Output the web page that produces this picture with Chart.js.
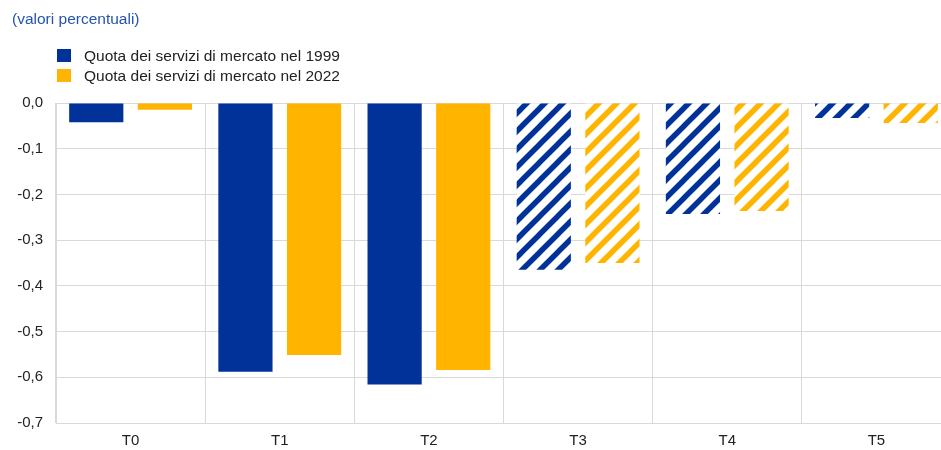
<!DOCTYPE html>
<html>
<head>
<meta charset="utf-8">
<script src="https://cdn.jsdelivr.net/npm/chart.js@4/dist/chart.umd.min.js"></script>
<style>
  html, body { margin: 0; padding: 0; background: #fff; overflow: hidden; }
  body { width: 941px; height: 450px; position: relative; font-family: "Liberation Sans", Arial, sans-serif; }
  #wrap { position: absolute; left: 0; top: 0; width: 952px; height: 450px; }
  #title { position: absolute; left: 12px; top: 10px; font-size: 15.5px; color: #2553b0; white-space: nowrap; }
  .leg { position: absolute; left: 57px; font-size: 15.5px; color: #222; white-space: nowrap; line-height: 18px; }
  .leg span.box { position: absolute; left: 0; top: 2px; width: 14px; height: 13px; }
  .leg span.txt { position: absolute; left: 27px; top: 0; }
</style>
</head>
<body>
<div id="wrap"><canvas id="c"></canvas></div>
<div id="title">(valori percentuali)</div>
<div class="leg" id="leg1" style="top:47px"><span class="box" style="background:#003299"></span><span class="txt"></span></div>
<div class="leg" id="leg2" style="top:67px"><span class="box" style="background:#ffb400"></span><span class="txt"></span></div>
<script>
const categories = ["T0", "T1", "T2", "T3", "T4", "T5"];
const seriesNames = ["Quota dei servizi di mercato nel 1999", "Quota dei servizi di mercato nel 2022"];
const share1999 = [-0.042, -0.588, -0.616, -0.365, -0.243, -0.033];
const share2022 = [-0.015, -0.551, -0.584, -0.350, -0.236, -0.044];
// categories from T3 onwards are drawn hatched
const hatched = [false, false, false, true, true, true];
const yTicks = [0, -0.1, -0.2, -0.3, -0.4, -0.5, -0.6, -0.7];

const BLUE = "#003299";
const YELLOW = "#ffb400";

document.querySelector("#leg1 .txt").textContent = seriesNames[0];
document.querySelector("#leg2 .txt").textContent = seriesNames[1];

// diagonal stripes rising to the right
function stripes(color) {
  const s = 18;
  const cv = document.createElement("canvas");
  cv.width = s; cv.height = s;
  const g = cv.getContext("2d");
  g.fillStyle = "#fff";
  g.fillRect(0, 0, s, s);
  g.strokeStyle = color;
  g.lineWidth = 5.5;
  g.beginPath();
  g.moveTo(-s / 2, s / 2); g.lineTo(s / 2, -s / 2);
  g.moveTo(0, s); g.lineTo(s, 0);
  g.moveTo(s / 2, s * 1.5); g.lineTo(s * 1.5, s / 2);
  g.stroke();
  return g.createPattern(cv, "repeat");
}

const ctx = document.getElementById("c").getContext("2d");
const blueHatch = stripes(BLUE);
const yellowHatch = stripes(YELLOW);

new Chart(ctx, {
  type: "bar",
  data: {
    labels: categories,
    datasets: [
      { label: seriesNames[0], data: share1999,
        backgroundColor: hatched.map(h => h ? blueHatch : BLUE) },
      { label: seriesNames[1], data: share2022,
        backgroundColor: hatched.map(h => h ? yellowHatch : YELLOW) }
    ]
  },
  options: {
    responsive: true,
    maintainAspectRatio: false,
    animation: false,
    categoryPercentage: 0.92,
    barPercentage: 0.79,
    layout: { padding: { top: 103, left: 6, right: 1, bottom: 0 } },
    plugins: { legend: { display: false }, tooltip: { enabled: false }, title: { display: false } },
    scales: {
      x: {
        grid: { color: "#d9d9d9", lineWidth: 1, drawTicks: false, offset: true },
        border: { color: "#d9d9d9" },
        ticks: { color: "#222", font: { family: "Liberation Sans", size: 15 }, padding: 9 },
        afterFit(scale) { scale.height = 27; }
      },
      y: {
        min: -0.7, max: 0,
        afterBuildTicks(scale) { scale.ticks = yTicks.map(v => ({ value: v })); },
        grid: { color: "#d9d9d9", lineWidth: 1, drawTicks: false },
        border: { color: "#d9d9d9" },
        ticks: {
          color: "#222", font: { family: "Liberation Sans", size: 15 }, padding: 13,
          callback: v => v.toFixed(1).replace(".", ",").replace("-0,0", "0,0")
        },
        afterFit(scale) { scale.width = 50; }
      }
    }
  }
});
</script>
</body>
</html>
